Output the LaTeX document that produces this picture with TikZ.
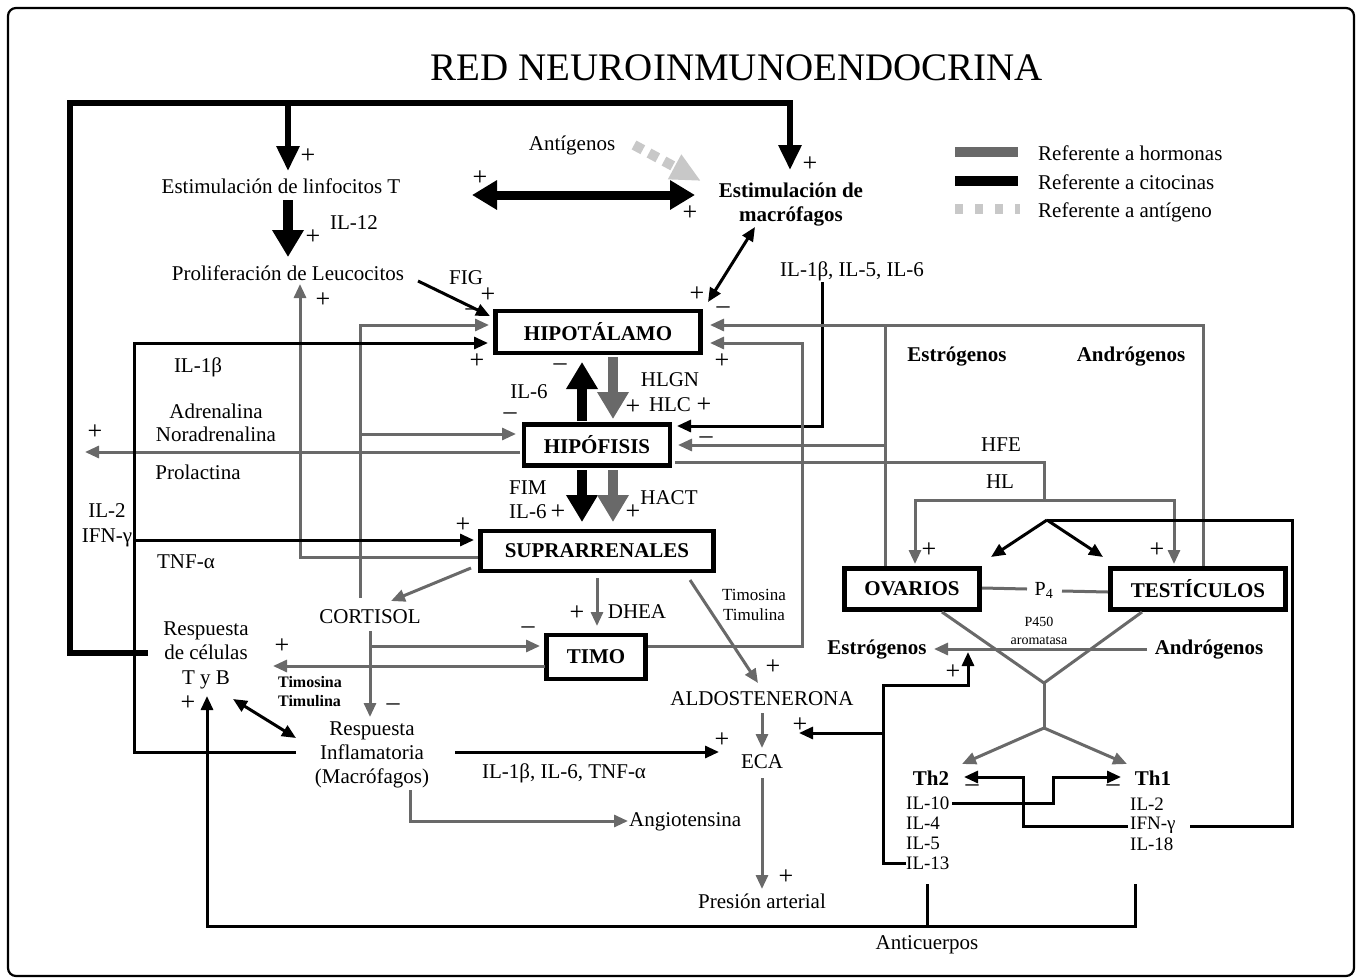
\documentclass[tikz,border=0pt]{standalone}
\usepackage{fontspec}
\setmainfont{Liberation Serif}
\usetikzlibrary{arrows.meta}
\definecolor{hgray}{RGB}{105,105,105}
\definecolor{agray}{RGB}{200,200,200}
\tikzset{
 txt/.style={inner sep=0pt, font=\fontsize{21}{24}\selectfont, align=center},
 txtb/.style={inner sep=0pt, font=\bfseries\fontsize{21}{24}\selectfont, align=center},
 txts/.style={inner sep=0pt, font=\fontsize{17}{20}\selectfont, align=center},
 txtil/.style={inner sep=0pt, font=\fontsize{19}{20}\selectfont, anchor=west},
 organ/.style={draw, line width=4.5pt, font=\bfseries\fontsize{21}{24}\selectfont, inner sep=0pt},
 sgn/.style={inner sep=0pt, font=\fontsize{26}{26}\selectfont},
 gl/.style={draw=hgray, line width=3pt},
 ga/.style={gl, -{Triangle[length=14pt,width=12pt]}},
 kl/.style={draw=black, line width=3pt},
 ka/.style={kl, -{Triangle[length=14pt,width=12pt]}},
 kda/.style={kl, {Triangle[length=14pt,width=12pt]}-{Triangle[length=14pt,width=12pt]}},
 fatk/.style={draw=black, line width=10pt, -{Triangle[length=27pt,width=30pt]}},
 fatg/.style={draw=hgray, line width=10pt, -{Triangle[length=27pt,width=30pt]}},
 loopk/.style={draw=black, line width=6pt, line join=miter, -{Triangle[length=25pt,width=22pt]}},
}
\begin{document}
\begin{tikzpicture}[x=1pt,y=-1pt]
\useasboundingbox (0,0) rectangle (1361,978);
\draw[line width=2.2pt, rounded corners=8pt] (8,8) rectangle (1354,976);

% title
\node[inner sep=0pt, font=\fontsize{39}{40}\selectfont] (title) at (737,68) {RED NEUROINMUNOENDOCRINA};

% legend
\draw[hgray, line width=10pt] (955,152) -- (1018,152);
\draw[black, line width=10pt] (955,181) -- (1018,181);
\draw[agray, line width=10pt, dash pattern=on 8pt off 12pt] (955,209) -- (1020,209);
\node[txt, anchor=west] (lg1) at (1038,153) {Referente a hormonas};
\node[txt, anchor=west] (lg2) at (1038,182) {Referente a citocinas};
\node[txt, anchor=west] (lg3) at (1038,212) {Referente a antígeno};

% organ boxes
\node[organ, minimum width=205pt, minimum height=42pt] (hipot) at (598,332) {HIPOTÁLAMO};
\node[organ, minimum width=146pt, minimum height=41pt] (hipof) at (597,445) {HIPÓFISIS};
\node[organ, minimum width=233pt, minimum height=40pt] (supra) at (597,551) {SUPRARRENALES};
\node[organ, minimum width=99pt, minimum height=44pt] (timo) at (596,657) {TIMO};
\node[organ, minimum width=135pt, minimum height=41pt] (ovar) at (912,589) {OVARIOS};
\node[organ, minimum width=175pt, minimum height=41pt] (test) at (1198,589) {TESTÍCULOS};

% text nodes
\node[txt] (linfT) at (281,186) {Estimulación de linfocitos T};
\node[txt] (prolif) at (288,273) {Proliferación de Leucocitos};
\node[txt] (il12) at (354,223) {IL-12};
\node[txt] (antig) at (572,145) {Antígenos};
\node[txtb] (macro) at (791,205) {Estimulación de\\macrófagos};
\node[txt] (il156) at (852,271) {IL-1β, IL-5, IL-6};
\node[txt] (fig) at (466,278) {FIG};
\node[txt] (il1b) at (198,367) {IL-1β};
\node[txt, font=\fontsize{21}{23}\selectfont] (adren) at (216,423) {Adrenalina\\Noradrenalina};
\node[txt] (prolac) at (198,472) {Prolactina};
\node[txt, font=\fontsize{21}{25}\selectfont] (il2ifn) at (107,525) {IL-2\\IFN-γ};
\node[txt] (tnf) at (186,562) {TNF-α};
\node[txt] (il6a) at (529,392) {IL-6};
\node[txt, font=\fontsize{21}{25}\selectfont] (hlgn) at (670,392) {HLGN\\HLC};
\node[txt, align=left, anchor=west, font=\fontsize{21}{24}\selectfont] (fim) at (509,500) {FIM\\IL-6};
\node[txt] (hact) at (669,498) {HACT};
\node[txtb] (estrA) at (957,357) {Estrógenos};
\node[txtb] (androA) at (1131,357) {Andrógenos};
\node[txt] (hfe) at (1001,445) {HFE};
\node[txt] (hl) at (1000,482) {HL};
\node[txt] (cort) at (370,617) {CORTISOL};
\node[txt] (dhea) at (637,612) {DHEA};
\node[txts] (timtimR) at (754,605) {Timosina\\Timulina};
\node[txt, font=\fontsize{21}{24.5}\selectfont] (resTB) at (206,655) {Respuesta\\de células\\T y B};
\node[txts, font=\bfseries\fontsize{16}{19}\selectfont, align=left] (timtimL) at (310,692) {Timosina\\Timulina};
\node[txt] (aldo) at (762,699) {ALDOSTENERONA};
\node[txt] (eca) at (762,762) {ECA};
\node[txt] (resInf) at (372,755) {Respuesta\\Inflamatoria\\(Macrófagos)};
\node[txt] (ilb6) at (564,773) {IL-1β, IL-6, TNF-α};
\node[txt, anchor=west] (angio) at (629,822) {Angiotensina};
\node[txt] (pres) at (762,901) {Presión arterial};
\node[txt] (antic) at (927,945) {Anticuerpos};
\node[txt, font=\fontsize{20}{22}\selectfont] (p4) at (1044,590) {P\textsubscript{4}};
\node[inner sep=0pt, font=\fontsize{14}{18}\selectfont, align=center] (p450) at (1039,631) {P450\\aromatasa};
\node[txtb] (estrB) at (877,650) {Estrógenos};
\node[txtb] (androB) at (1209,650) {Andrógenos};
\node[txtb] (th2) at (931,778) {Th2};
\node[txtb] (th1) at (1153,778) {Th1};
\node[txtil] (il10) at (906,803) {IL-10};
\node[txtil] (il4) at (906,823) {IL-4};
\node[txtil] (il5) at (906,843) {IL-5};
\node[txtil] (il13) at (906,863) {IL-13};
\node[txtil] (il2b) at (1130,804) {IL-2};
\node[txtil] (ifng) at (1130,825) {IFN-γ};
\node[txtil] (il18) at (1130,844) {IL-18};

% thick cytokine loop
\draw[loopk] (148,653) -- (70,653) -- (70,103) -- (790,103) -- (790,170);
\draw[loopk] (288,103) -- (288,171);

% fat arrows
\draw[fatk] (288,200) -- (288,257);
\draw[draw=black, line width=9pt, {Triangle[length=25pt,width=28pt]}-{Triangle[length=25pt,width=28pt]}] (472,195) -- (695,195);
\draw[fatk] (582,421) -- (582,362);
\draw[fatg] (613,357) -- (613,419);
\draw[fatk] (582,470) -- (582,522);
\draw[fatg] (613,470) -- (613,522);

% antigen
\draw[agray, line width=10pt, dash pattern=on 10pt off 7pt, -{Triangle[length=30pt,width=26pt]}] (634,145) -- (701,181);

% black thin connectors top
\draw[kda] (755,227) -- (708,302);
\draw[ka] (418,281) -- (490,316);
\draw[ka] (822,282) -- (822,426) -- (677,426);

% left side
\draw[ga] (478,557) -- (300,557) -- (300,284);
\draw[ga] (360,598) -- (360,325) -- (489,325);
\draw[ga] (360,434) -- (516,434);
\draw[ga] (520,452) -- (85,452);
\draw[ka] (296,752) -- (134,752) -- (134,343) -- (488,343);
\draw[ka] (134,540) -- (474,540);
\draw[ga] (471,568) -- (391,601);
\draw[ga] (370,631) -- (370,717);
\draw[ga] (370,646) -- (540,646);
\draw[ga] (545,666) -- (273,666);
\draw[ga] (648,646) -- (802,646) -- (802,343) -- (710,343);
\draw[ga] (597,578) -- (597,626);
\draw[ga] (690,580) -- (758,683);
\draw[ga] (762,713) -- (762,748);
\draw[ga] (762,778) -- (762,889);
\draw[ka] (455,752) -- (719,752);
\draw[ga] (410,790) -- (410,821) -- (628,821);
\draw[kda] (233,699) -- (296,738);
\draw[ka] (1135,884) -- (1135,926) -- (207,926) -- (207,696);
\draw[kl] (927,884) -- (927,926);

% right side
\draw[ga] (1203,566) -- (1203,325) -- (710,325);
\draw[gl] (885,566) -- (885,325);
\draw[ga] (885,445) -- (678,445);
\draw[gl] (675,462) -- (1044,462) -- (1044,500);
\draw[ga] (1044,500) -- (915,500) -- (915,564);
\draw[ga] (1044,500) -- (1174,500) -- (1174,564);
\draw[ka] (1047,520) -- (991,557);
\draw[ka] (1047,520) -- (1103,557);
\draw[kl] (1047,520) -- (1292,520) -- (1292,826) -- (1190,826);
\draw[gl] (982,588) -- (1027,589);
\draw[gl] (1062,591) -- (1108,592);
\draw[gl] (942,612) -- (1044,683) -- (1142,612);
\draw[gl] (1044,683) -- (1044,728);
\draw[ga] (1044,728) -- (962,764);
\draw[ga] (1044,728) -- (1127,764);
\draw[ga] (1147,649) -- (934,649);
\draw[ka] (906,863) -- (883,863) -- (883,685) -- (968,685) -- (968,652);
\draw[ka] (883,733) -- (799,733);
\draw[ka] (952,803) -- (1053,803) -- (1053,777) -- (1121,777);
\draw[ka] (1128,826) -- (1023,826) -- (1023,777) -- (964,777);

% signs
\foreach \x/\y in {308/156, 810/164, 313/237, 480/178, 690/213, 323/300, 488/295, 697/294,
  477/361, 722/361, 633/407, 704/405, 95/432, 463/525, 558/512, 633/512, 929/550, 1157/550,
  577/613, 282/646, 188/703, 773/667, 800/725, 722/740, 786/877, 953/672}
  \node[sgn] at (\x,\y) {+};
\foreach \x/\y in {472/312, 723/310, 560/367, 510/416, 706/440, 528/630, 393/707, 972/788, 1113/788}
  \node[sgn] at (\x,\y) {–};
\end{tikzpicture}
\end{document}
